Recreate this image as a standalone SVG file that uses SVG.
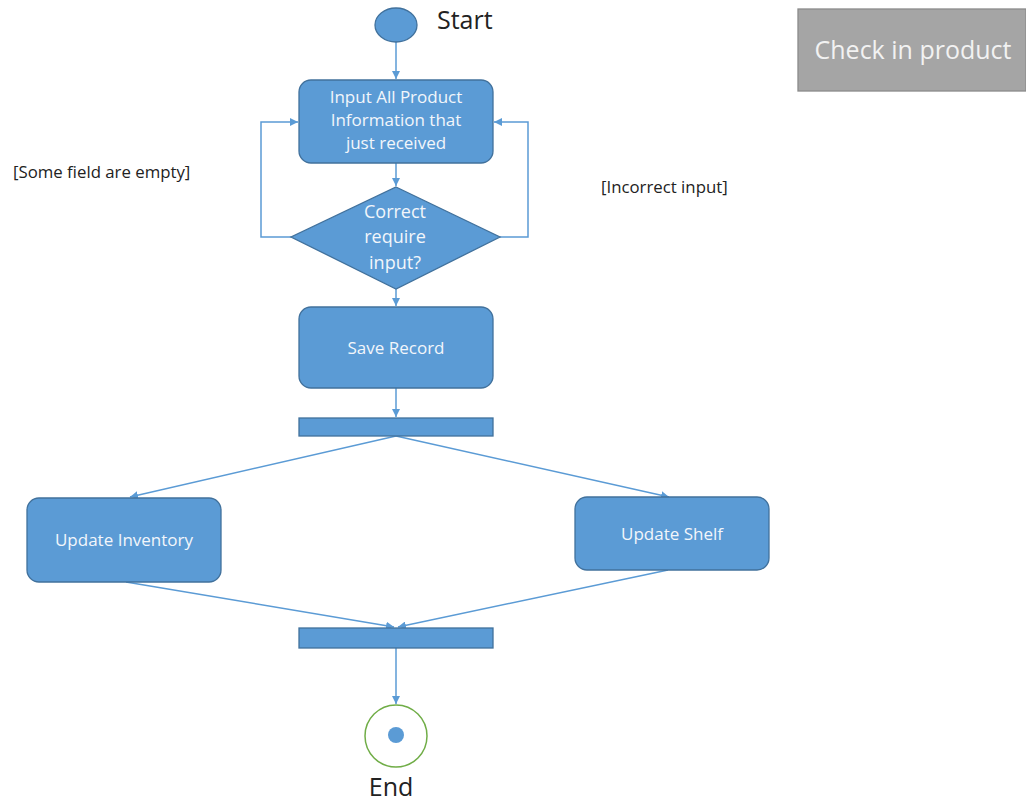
<svg xmlns="http://www.w3.org/2000/svg" width="1026" height="803" viewBox="0 0 1026 803">
<style>
.n{fill:#5b9bd5;stroke:#41719c;stroke-width:1.3}
.t{font-family:"Open Sans","Noto Sans",sans-serif;fill:#f2f6fb;text-anchor:middle}
.c{fill:none;stroke:#5b9bd5;stroke-width:1.5}
.lbl{font-family:"Open Sans","Noto Sans",sans-serif;fill:#222;font-size:16.8px}
.big{font-family:"Open Sans","Noto Sans",sans-serif;fill:#222;font-size:25px}
</style>
<defs>
<marker id="ah" viewBox="0 0 10 10" refX="10" refY="5" markerWidth="8" markerHeight="8" markerUnits="userSpaceOnUse" orient="auto">
<path d="M0,0 L10,5 L0,10 z" fill="#5b9bd5"/>
</marker>
</defs>
<rect width="1026" height="803" fill="#fff"/>
<g id="connectors">
<line class="c" x1="396" y1="42" x2="396" y2="79" marker-end="url(#ah)"/>
<line class="c" x1="396" y1="163" x2="396" y2="186" marker-end="url(#ah)"/>
<polyline class="c" points="291,237 261,237 261,122 298,122" marker-end="url(#ah)"/>
<polyline class="c" points="500,237 528,237 528,122 494,122" marker-end="url(#ah)"/>
<line class="c" x1="396" y1="289" x2="396" y2="306" marker-end="url(#ah)"/>
<line class="c" x1="396" y1="388" x2="396" y2="417" marker-end="url(#ah)"/>
<line class="c" x1="396" y1="436" x2="130" y2="497" marker-end="url(#ah)"/>
<line class="c" x1="396" y1="436" x2="669" y2="497" marker-end="url(#ah)"/>
<line class="c" x1="126" y1="582" x2="394" y2="627" marker-end="url(#ah)"/>
<line class="c" x1="668" y1="570" x2="398" y2="627" marker-end="url(#ah)"/>
<line class="c" x1="396" y1="648" x2="396" y2="704" marker-end="url(#ah)"/>
</g>
<g id="start">
<ellipse class="n" cx="396" cy="25" rx="21" ry="17"/>
<text class="big" x="437" y="29">Start</text>
</g>
<g id="title">
<rect x="798" y="9" width="228" height="82" fill="#a5a5a5" stroke="#8a8a8a" stroke-width="1.3"/>
<text x="913" y="59" font-family="Open Sans, Noto Sans, sans-serif" font-size="25" fill="#f2f2f2" text-anchor="middle">Check in product</text>
</g>
<g id="input">
<rect class="n" x="299" y="80" width="194" height="83" rx="12"/>
<text class="t" font-size="17"><tspan x="396" y="103">Input All Product</tspan><tspan x="396" y="126">Information that</tspan><tspan x="396" y="149">just received</tspan></text>
</g>
<g id="decision">
<polygon class="n" points="396,187 500,237 396,289 291,237"/>
<text class="t" font-size="18"><tspan x="395" y="218">Correct</tspan><tspan x="395" y="243">require</tspan><tspan x="395" y="269">input?</tspan></text>
</g>
<g id="labels">
<text class="lbl" x="13" y="178">[Some field are empty]</text>
<text class="lbl" x="601" y="193">[Incorrect input]</text>
</g>
<g id="save">
<rect class="n" x="299" y="307" width="194" height="81" rx="12"/>
<text class="t" font-size="17" x="396" y="354">Save Record</text>
</g>
<g id="fork">
<rect class="n" x="299" y="418" width="194" height="18"/>
</g>
<g id="inventory">
<rect class="n" x="27" y="498" width="194" height="84" rx="12"/>
<text class="t" font-size="17" x="124" y="546">Update Inventory</text>
</g>
<g id="shelf">
<rect class="n" x="575" y="497" width="194" height="73" rx="12"/>
<text class="t" font-size="17" x="672" y="540">Update Shelf</text>
</g>
<g id="join">
<rect class="n" x="299" y="628" width="194" height="20"/>
</g>
<g id="end">
<circle cx="396" cy="736" r="31" fill="#fff" stroke="#70ad47" stroke-width="1.5"/>
<circle cx="396" cy="735" r="8" fill="#5b9bd5"/>
<text class="big" x="391" y="796" text-anchor="middle">End</text>
</g>
</svg>
